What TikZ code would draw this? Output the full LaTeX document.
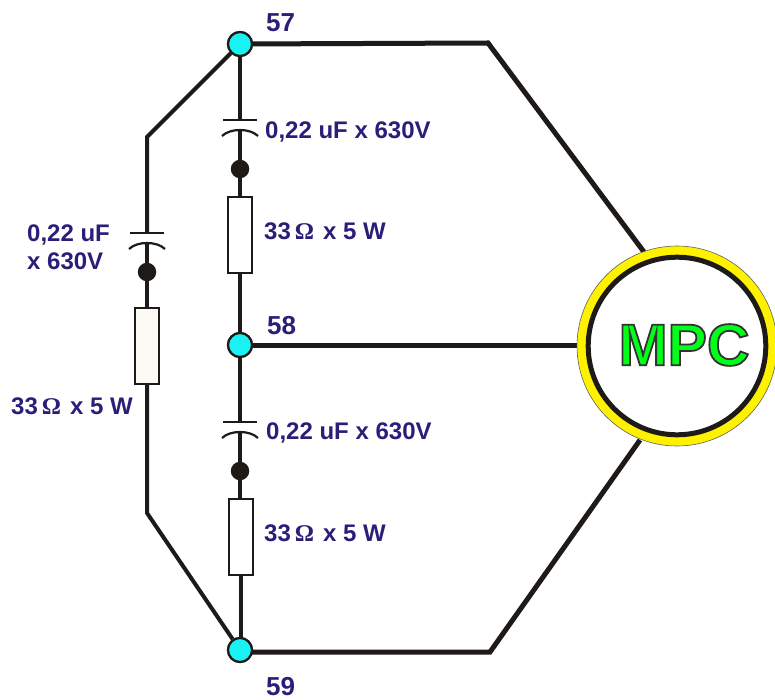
\documentclass[tikz,border=0pt]{standalone}
\usepackage{fontspec}
\setmainfont{Liberation Sans}
\newfontfamily\omegafont{Liberation Serif}
\definecolor{lbl}{HTML}{2A1F78}
\definecolor{ink}{HTML}{1E1A18}
\definecolor{aqua}{HTML}{19F2F2}
\definecolor{mpcgreen}{HTML}{00FF19}
\definecolor{resfill}{HTML}{FBFAF5}
\newcommand{\Om}{{\omegafont\bfseries\fontsize{24}{24}\selectfont Ω}}
\tikzset{
 x=1pt,y=-1pt,
 junction/.style={circle,draw=ink,line width=2.2pt,fill=aqua,minimum size=24pt,inner sep=0pt},
 blob/.style={circle,fill=ink,minimum size=18.5pt,inner sep=0pt},
 resistor/.style={rectangle,draw=ink,line width=2.2pt,minimum width=24pt,minimum height=76pt,inner sep=0pt},
 mainwire/.style={draw=ink,line width=5pt,line join=miter},
 branch/.style={draw=ink,line width=4pt},
 plate/.style={draw=ink,line width=2.2pt},
 lab/.style={text=lbl,font=\bfseries\fontsize{24}{28}\selectfont,inner sep=0pt,anchor=west,align=left},
 numlab/.style={lab,font=\bfseries\fontsize{26}{28}\selectfont},
}
\begin{document}
\begin{tikzpicture}
\useasboundingbox (0,0) rectangle (775,700);
\fill[white] (0,0) rectangle (775,700);
\coordinate (mc) at (677,346);
\coordinate (a1) at (488,43);
\coordinate (a2) at (644,252);
\coordinate (c1) at (490,652);
\coordinate (c2) at (640,440);
\coordinate (m1) at (578,345);
\coordinate (l1) at (147,137);
\coordinate (l2) at (147,513);
\coordinate (j59) at (240,652);
\node[junction] (n57) at (240,44) {};
\node[junction] (n58) at (240,345) {};
\node[junction] (n59) at (240,650) {};
\coordinate (ct1) at (240,120); \coordinate (cb1) at (240,129);
\coordinate (ct2) at (240,422); \coordinate (cb2) at (240,431);
\coordinate (ct3) at (147,233); \coordinate (cb3) at (147,242);
\node[blob] (d1) at (240,169) {};
\node[blob] (d2) at (240,471) {};
\node[blob] (d3) at (147,272) {};
\node[resistor,fill=white] (r1) at (240,235) {};
\node[resistor,fill=white] (r2) at (241,537) {};
\node[resistor,fill=resfill] (r3) at (147,346) {};
% wires
\draw[mainwire] (n57) -- (a1) -- (a2);
\draw[mainwire] (j59) -- (c1) -- (c2);
\draw[mainwire] (n58) -- (m1);
\draw[branch] (n57) -- (l1) -- (ct3);
\draw[branch] (cb3) -- (d3) -- (r3);
\draw[branch] (r3) -- (l2) -- (n59);
\draw[branch] (n57) -- (ct1);
\draw[branch] (cb1) -- (d1) -- (r1);
\draw[branch] (r1) -- (n58);
\draw[branch] (n58) -- (ct2);
\draw[branch] (cb2) -- (d2);
\draw[branch] (d2) -- (d2 |- r2.north);
\draw[branch] (r2.south) -- (r2 |- n59);
% plates
\foreach \c/\b in {ct1/cb1,ct2/cb2,ct3/cb3}{
 \draw[plate] ([xshift=-17pt]\c) -- ([xshift=17pt]\c);
 \draw[plate] ([xshift=-18pt,yshift=-7pt]\b) .. controls ([xshift=-10pt,yshift=1pt]\b) and ([xshift=10pt,yshift=1pt]\b) .. ([xshift=18pt,yshift=-7pt]\b);
}
\node[junction] at (n57) {};
\node[junction] at (n58) {};
\node[junction] at (n59) {};
% ring
\fill[yellow,draw=ink!70,line width=.6pt] (mc) circle (100);
\fill[white,draw=ink,line width=5pt] (mc) circle (88.8);
\node[inner sep=0pt,text=mpcgreen,font=\bfseries\fontsize{59}{59}\selectfont] (mpc) at (684,345) {\special{pdf:code 2 Tr 1.8 w 0.2 0.2 0.2 RG}MPC\special{pdf:code 0 Tr}};
% labels
\node[numlab] (t57) at (266,23) {57};
\node[numlab] (t58) at (267,326) {58};
\node[numlab] (t59) at (266,687) {59};
\node[lab] (c1l) at (265,132) {0,22 uF x 630V};
\node[lab] (c2l) at (266,433) {0,22 uF x 630V};
\node[lab] (c3l) at (27,247) {0,22 uF\\x 630V};
\node[lab] (r1l) at (264,231) {33\,\Om\hspace{9pt}x 5 W};
\node[lab] (r2l) at (264,533) {33\,\Om\hspace{9pt}x 5 W};
\node[lab] (r3l) at (11,406) {33\,\Om\hspace{9pt}x 5 W};
\end{tikzpicture}
\end{document}
